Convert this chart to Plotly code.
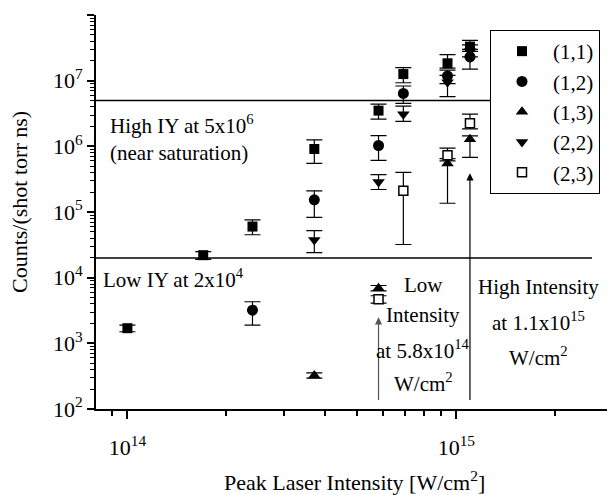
import numpy as np
import plotly.graph_objects as go

# Peak laser intensity [W/cm^2] and ion yield [counts/(shot torr ns)] per (n,l) state,
# with upper / lower ends of the error bars.
x_11 = [1.0e14, 1.7e14, 2.4e14, 3.7e14, 5.8e14, 6.9e14, 9.4e14, 1.1e15]
y_11 = [1.7e3, 2.2e4, 6.0e4, 9.1e5, 3.5e6, 1.26e7, 1.84e7, 3.3e7]
hi_11 = [1.9e3, 2.5e4, 7.6e4, 1.25e6, 4.4e6, 1.58e7, 2.5e7, 4.1e7]
lo_11 = [1.5e3, 1.9e4, 4.5e4, 5.5e5, 2.6e6, 9.3e6, 1.55e7, 2.8e7]

x_12 = [2.4e14, 3.7e14, 5.8e14, 6.9e14, 9.4e14, 1.1e15]
y_12 = [3.2e3, 1.53e5, 1.03e6, 6.4e6, 1.18e7, 2.3e7]
hi_12 = [4.3e3, 2.1e5, 1.46e6, 8.3e6, 1.45e7, 3.0e7]
lo_12 = [1.9e3, 8.3e4, 6.1e5, 4.5e6, 9.0e6, 1.5e7]

x_13 = [3.7e14, 5.8e14, 9.4e14, 1.1e15]
y_13 = [324, 6.9e3, 5.5e5, 1.28e6]
hi_13 = [355, 7.6e3, 6.5e5, 1.44e6]
lo_13 = [295, 6.3e3, 1.36e5, 6.8e5]

x_22 = [3.7e14, 5.8e14, 6.9e14, 9.4e14, 1.1e15]
y_22 = [3.76e4, 2.87e5, 3.08e6, 9.5e6, 2.8e7]
hi_22 = [5.2e4, 3.7e5, 4.1e6, 1.2e7, 3.5e7]
lo_22 = [2.4e4, 2.2e5, 2.4e6, 5.7e6, 2.3e7]

x_23 = [5.8e14, 6.9e14, 9.4e14, 1.1e15]
y_23 = [4.7e3, 2.1e5, 7.3e5, 2.25e6]
hi_23 = [5.3e3, 4.0e5, 9.4e5, 3.1e6]
lo_23 = [4.1e3, 3.2e4, 6.0e5, 1.84e6]

# Reference levels and the two marked intensities
high_iy = 5e6
low_iy = 2e4
low_intensity = 5.8e14
high_intensity = 1.1e15

x_major = [1e14, 1e15]
x_major_text = ["10<sup>14</sup>", "10<sup>15</sup>"]
y_major = [1e2, 1e3, 1e4, 1e5, 1e6, 1e7, 1e8]
y_major_text = ["10<sup>%d</sup>" % e for e in range(2, 9)]

FONT = "Liberation Serif, Times New Roman, serif"

series = [
    ("(1,1)", x_11, y_11, hi_11, lo_11, dict(symbol="square", size=10, color="black")),
    ("(1,2)", x_12, y_12, hi_12, lo_12, dict(symbol="circle", size=11, color="black")),
    ("(1,3)", x_13, y_13, hi_13, lo_13, dict(symbol="triangle-up", size=11, color="black")),
    ("(2,2)", x_22, y_22, hi_22, lo_22, dict(symbol="triangle-down", size=11, color="black")),
    ("(2,3)", x_23, y_23, hi_23, lo_23,
     dict(symbol="square", size=9, color="white", line=dict(color="black", width=1.5))),
]

fig = go.Figure()
for name, xs, ys, hi, lo, marker in series:
    ys_a = np.array(ys, dtype=float)
    fig.add_trace(go.Scatter(
        x=xs, y=ys, name=name, mode="markers", marker=marker,
        error_y=dict(type="data", symmetric=False,
                     array=np.array(hi) - ys_a, arrayminus=ys_a - np.array(lo),
                     color="black", thickness=1.2, width=8),
    ))

# Horizontal ion-yield reference lines
L, R, T, B = 96, 3, 15, 86
W, H = 610, 495
pw, ph = W - L - R, H - T - B


def px(xpix):
    return (xpix - L) / pw


def py(ypix):
    return (H - B - ypix) / ph


fig.add_shape(type="line", xref="paper", yref="y", x0=0, x1=px(490), y0=high_iy, y1=high_iy,
              line=dict(color="black", width=1.5))
fig.add_shape(type="line", xref="paper", yref="y", x0=0, x1=px(592), y0=low_iy, y1=low_iy,
              line=dict(color="black", width=1.5))

ann = []
# Arrows marking the two intensities
for xi, tip, col in [(low_intensity, 2.5e3, "#555555"), (high_intensity, 3.9e5, "black")]:
    ann.append(dict(x=np.log10(xi), y=np.log10(tip), ax=np.log10(xi), ay=np.log10(130),
                    xref="x", yref="y", axref="x", ayref="y", text="", showarrow=True,
                    arrowhead=2, arrowsize=1.2, arrowwidth=1.2, arrowcolor=col))

tsize = 21


def label(text, xpix, ypix, anchor="left", size=tsize):
    ann.append(dict(text=text, x=px(xpix), y=py(ypix), xref="paper", yref="paper",
                    xanchor=anchor, yanchor="middle", showarrow=False,
                    font=dict(family=FONT, size=size, color="black")))


label("High IY at 5x10<sup>6</sup>", 108, 124)
label("(near saturation)", 108, 153)
label("Low IY at 2x10<sup>4</sup>", 101, 278)

label("Low", 423, 285, "center")
label("Intensity", 423, 315, "center")
label("at 5.8x10<sup>14</sup>", 423, 349, "center")
label("W/cm<sup>2</sup>", 423, 382, "center")

label("High Intensity", 538, 287, "center")
label("at 1.1x10<sup>15</sup>", 538, 321, "center")
label("W/cm<sup>2</sup>", 538, 356, "center")

# Axis titles
ann.append(dict(text="Peak Laser Intensity [W/cm<sup>2</sup>]", x=px(354), y=py(481),
                xref="paper", yref="paper", xanchor="center", yanchor="middle", showarrow=False,
                font=dict(family=FONT, size=22, color="black")))
ann.append(dict(text="Counts/(shot torr ns)", x=px(19), y=py(202), textangle=-90,
                xref="paper", yref="paper", xanchor="center", yanchor="middle", showarrow=False,
                font=dict(family=FONT, size=22, color="black")))

minor_vals = [k * 10.0 ** e for e in (13, 14, 15) for k in range(2, 10)]

fig.update_layout(
    width=W, height=H,
    margin=dict(l=L, r=R, t=T, b=B, pad=0),
    paper_bgcolor="white", plot_bgcolor="white",
    font=dict(family=FONT, size=22, color="black"),
    showlegend=True,
    legend=dict(x=px(490), y=py(30), xanchor="left", yanchor="top",
                bgcolor="white", bordercolor="black", borderwidth=1,
                font=dict(family=FONT, size=21, color="black"), itemwidth=52),
    xaxis=dict(type="log", range=[13.9045, 15.458], showline=True, linecolor="black", linewidth=2,
               showgrid=False, zeroline=False, ticks="outside", ticklen=8, tickwidth=1.5,
               tickcolor="black", tickmode="array", tickvals=x_major, ticktext=x_major_text,
               ticklabelstandoff=10,
               minor=dict(ticks="outside", ticklen=5, tickwidth=1.5, tickcolor="black",
                          tickmode="array", tickvals=minor_vals, showgrid=False)),
    yaxis=dict(type="log", range=[2, 8], showline=True, linecolor="black", linewidth=2,
               showgrid=False, zeroline=False, ticks="outside", ticklen=7, tickwidth=1.5,
               tickcolor="black", tickmode="array", tickvals=y_major, ticktext=y_major_text,
               minor=dict(ticks="outside", ticklen=4, tickwidth=1.2, tickcolor="black",
                          tickmode="array",
                          tickvals=[k * 10.0 ** e for e in range(2, 8) for k in range(2, 10)],
                          showgrid=False)),
    annotations=ann,
)

fig.write_html("out.html")
